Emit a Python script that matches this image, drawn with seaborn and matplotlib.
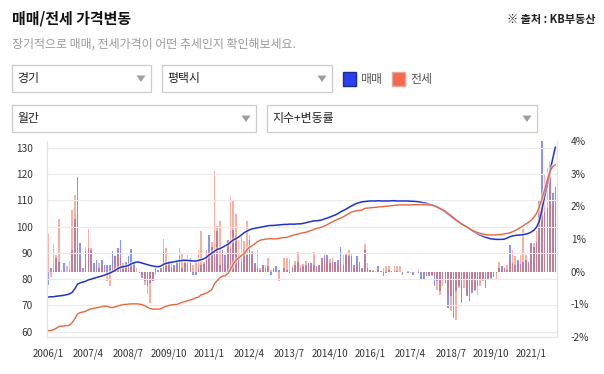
import numpy as np
import pandas as pd
import seaborn as sns
import matplotlib.pyplot as plt
import matplotlib.patheffects as pe
from matplotlib.patches import Rectangle, Polygon

# 평택시 월간 지수 / 변동률, 2006/1 ~ 2021/10 (one row per year)
sale_index = [
    73.2, 73.3, 73.3, 73.5, 73.6, 73.7, 73.9, 74.1, 74.4, 75.0, 76.4, 78.1,
    78.6, 78.9, 79.2, 79.7, 80.0, 80.3, 80.6, 80.9, 81.2, 81.5, 81.9, 82.3,
    82.8, 83.3, 84.0, 84.5, 84.7, 84.9, 85.2, 85.8, 86.2, 86.5, 86.4, 86.1,
    85.8, 85.5, 85.2, 85.0, 84.8, 84.7, 85.0, 85.6, 86.0, 86.2, 86.4, 86.6,
    86.8, 87.0, 87.1, 87.2, 87.1, 87.0, 86.9, 86.9, 87.1, 87.4, 87.7, 88.3,
    89.2, 89.9, 90.6, 91.3, 91.6, 92.1, 92.7, 93.2, 94.1, 94.9, 95.4, 96.0,
    96.8, 97.6, 98.2, 98.7, 99.1, 99.3, 99.5, 99.7, 99.9, 100.1, 100.3, 100.4,
    100.4, 100.5, 100.6, 100.7, 100.8, 100.8, 100.9, 100.9, 100.9, 101.0, 101.0, 101.2,
    101.4, 101.7, 101.9, 102.1, 102.2, 102.3, 102.5, 102.9, 103.2, 103.6, 104.0, 104.4,
    104.9, 105.6, 106.1, 106.6, 107.2, 107.8, 108.3, 108.8, 109.1, 109.4, 109.5, 109.6,
    109.7, 109.7, 109.7, 109.8, 109.7, 109.7, 109.7, 109.7, 109.8, 109.8, 109.7, 109.7,
    109.7, 109.7, 109.7, 109.6, 109.6, 109.5, 109.4, 109.2, 109.0, 108.8, 108.5, 108.2,
    107.8, 107.3, 106.8, 106.2, 105.5, 104.7, 103.9, 103.1, 102.3, 101.6, 101.0, 100.5,
    99.9, 99.2, 98.4, 97.8, 97.2, 96.7, 96.3, 95.9, 95.6, 95.3, 95.2, 95.1,
    95.1, 95.1, 95.2, 95.6, 96.1, 96.4, 96.6, 96.7, 96.8, 96.9, 97.1, 97.4,
    97.9, 98.6, 99.8, 102.0, 106.5, 111.5, 116.0, 121.0, 125.8, 130.2,
]
jeonse_index = [
    60.4, 60.5, 60.8, 61.3, 62.0, 62.1, 62.2, 62.3, 62.5, 63.5, 65.0, 66.8,
    67.3, 67.5, 67.8, 68.3, 68.7, 68.9, 69.1, 69.3, 69.5, 69.8, 69.7, 69.3,
    69.2, 69.5, 69.8, 70.1, 70.3, 70.4, 70.5, 70.6, 70.6, 70.6, 70.5, 70.3,
    69.9, 69.3, 68.8, 68.6, 68.6, 68.6, 68.7, 69.3, 69.7, 70.0, 70.2, 70.3,
    70.4, 70.8, 71.2, 71.5, 71.8, 72.1, 72.4, 72.9, 73.1, 74.0, 74.3, 74.7,
    75.3, 76.0, 78.3, 79.4, 80.6, 81.1, 81.3, 82.1, 83.9, 85.7, 87.2, 88.0,
    88.9, 89.7, 91.1, 92.1, 92.7, 93.4, 94.2, 94.8, 95.0, 95.2, 95.3, 95.4,
    95.3, 95.3, 95.5, 95.7, 95.8, 95.9, 96.3, 96.6, 96.9, 97.1, 97.4, 97.6,
    97.8, 98.1, 98.5, 98.9, 99.3, 99.5, 99.8, 100.2, 100.7, 101.3, 101.8, 102.3,
    102.8, 103.2, 103.7, 104.3, 104.9, 105.5, 105.8, 106.0, 106.1, 106.3, 106.9, 107.0,
    107.1, 107.2, 107.3, 107.4, 107.5, 107.6, 107.7, 107.8, 107.9, 108.0, 108.1, 108.2,
    108.2, 108.2, 108.2, 108.2, 108.3, 108.3, 108.3, 108.3, 108.3, 108.2, 108.2, 108.1,
    107.8, 107.4, 106.9, 106.4, 105.8, 105.0, 104.2, 103.4, 102.6, 101.8, 101.0, 100.4,
    99.8, 99.2, 98.6, 98.1, 97.7, 97.4, 97.1, 96.9, 96.8, 96.8, 96.8, 96.8,
    96.9, 97.0, 97.2, 97.4, 97.6, 98.0, 98.5, 99.0, 99.6, 100.3, 101.0, 101.6,
    102.4, 103.6, 105.0, 107.5, 110.5, 114.0, 117.8, 121.0, 122.8, 123.5,
]
sale_change = [
    -0.4, 0.12, 0.05, 0.42, 0.3, 0.0, 0.27, 0.0, 0.05, 0.65, 1.6, 2.9,
    0.88, 0.12, 0.62, 0.72, 0.67, 0.27, 0.37, 0.1, 0.35, 0.21, 0.2, 0.2,
    0.62, 0.47, 0.72, 0.96, 0.21, 0.3, 0.47, 0.7, 0.27, 0.0, -0.05, -0.2,
    -0.3, -0.45, -0.35, -0.3, 0.1, 0.05, 0.1, 0.6, 0.3, 0.32, 0.1, 0.2,
    0.31, 0.47, 0.1, 0.27, 0.2, 0.42, -0.09, -0.09, 0.1, 0.21, 0.25, 0.55,
    1.13, 0.77, 0.6, 1.23, 0.21, 0.67, 0.5, 0.98, 0.7, 1.28, 1.08, 0.47,
    0.3, 0.67, 0.5, 0.98, 0.57, 0.27, 0.1, 0.06, 0.21, 0.11, 0.16, -0.09,
    0.11, 0.18, 0.05, 0.0, 0.1, 0.05, -0.04, 0.1, 0.21, 0.29, 0.11, 0.16,
    0.2, 0.27, 0.27, 0.21, 0.16, 0.2, 0.42, 0.47, 0.52, 0.27, 0.3, 0.29,
    0.37, 0.75, 0.21, 0.52, 0.47, 0.47, 0.2, 0.47, 0.3, 0.1, 0.67, 0.11,
    0.05, 0.02, 0.0, 0.18, 0.02, -0.14, -0.05, 0.06, 0.02, 0.02, 0.01, -0.02,
    -0.09, 0.0, -0.04, -0.02, -0.09, 0.0, -0.05, -0.24, -0.24, -0.14, -0.14, -0.1,
    -0.45, -0.3, -0.6, -0.24, -0.35, -1.11, -0.76, -1.42, -0.6, -0.45, -0.96, -0.24,
    -0.75, -0.9, -0.65, -0.55, -0.45, -0.24, -0.24, -0.5, -0.24, -0.19, -0.15, -0.05,
    0.1, 0.18, 0.11, 0.06, 0.83, 0.27, 0.2, 0.37, 0.25, 0.3, 0.37, 0.3,
    0.88, 0.77, 0.9, 2.15, 4.0, 1.84, 1.95, 3.27, 2.4, 2.6,
]
jeonse_change = [
    1.15, -0.15, 0.85, 0.5, 1.6, 0.05, 0.0, 0.17, 0.33, 1.9, 2.35, 2.15,
    0.3, 0.0, 0.75, 1.3, 0.72, 0.0, 0.05, 0.27, 0.2, 0.06, -0.3, -0.43,
    0.2, 0.47, 0.57, 0.42, 0.27, 0.1, 0.12, 0.22, 0.1, 0.1, 0.0, -0.1,
    -0.4, -0.67, -0.96, -0.3, -0.1, 0.0, 0.05, 1.0, 0.72, 0.25, 0.27, 0.1,
    0.1, 0.72, 0.57, 0.37, 0.52, 0.32, 0.21, 0.3, 0.67, 1.23, 0.3, 0.67,
    0.6, 0.9, 3.07, 1.39, 1.54, 0.57, 0.21, 0.98, 2.32, 2.2, 1.77, 0.98,
    1.08, 0.93, 1.56, 1.13, 0.62, 0.21, 0.67, 0.1, 0.21, 0.21, 0.42, 0.05,
    0.06, 0.0, -0.3, 0.0, 0.42, 0.42, 0.39, 0.16, 0.32, 0.59, 0.2, 0.24,
    0.32, 0.18, 0.16, 0.59, 0.11, 0.21, 0.29, 0.52, 0.4, 0.39, 0.42, 0.27,
    0.21, 0.3, 0.52, 0.57, 0.67, 0.57, 0.11, 0.21, 0.1, 0.06, 0.86, 0.27,
    0.06, 0.04, 0.02, 0.05, 0.01, 0.11, 0.18, 0.16, 0.01, 0.18, 0.18, 0.18,
    -0.04, 0.0, 0.02, -0.04, 0.0, 0.0, 0.08, 0.0, -0.09, -0.04, -0.09, -0.14,
    -0.14, -0.55, -0.7, -0.45, -0.35, -0.65, -1.21, -1.06, -1.47, -0.5, -0.75, -0.5,
    -0.7, -0.45, -0.55, -0.6, -0.7, -0.45, -0.3, -0.24, -0.2, -0.24, 0.0, -0.24,
    0.29, 0.1, 0.11, 0.2, 0.32, 0.67, 0.47, 0.21, 0.52, 1.3, 0.52, 0.24,
    0.83, 0.88, 1.23, 2.15, 2.3, 3.0, 3.17, 3.37, 2.0, 0.8,
]
tick_labels = ['2006/1', '2007/4', '2008/7', '2009/10', '2011/1', '2012/4', '2013/7',
               '2014/10', '2016/1', '2017/4', '2018/7', '2019/10', '2021/1']
index_ticks = [60, 70, 80, 90, 100, 110, 120, 130]
change_ticks = [-2, -1, 0, 1, 2, 3, 4]

df = pd.DataFrame({'sale_index': sale_index, 'jeonse_index': jeonse_index,
                   'sale_change': sale_change, 'jeonse_change': jeonse_change})
df['month'] = np.arange(len(df))

BLUE_LINE = '#2233cc'
RED_LINE = '#e8663f'

sns.set_style('white')
plt.rcParams['font.family'] = ['Noto Sans CJK KR', 'DejaVu Sans']

W, H = 604, 374
fig = plt.figure(figsize=(W / 100, H / 100), dpi=100)


def fx(px):
    return px / W


def fy(py):
    return 1 - py / H


# header texts
fig.text(fx(12), fy(18), '매매/전세 가격변동', fontsize=10.8, fontweight='bold', color='#111111', va='center')
fig.text(fx(596), fy(19), '※ 출처 : KB부동산', fontsize=8, fontweight='bold', color='#222222',
         ha='right', va='center')
fig.text(fx(12), fy(44), '장기적으로 매매, 전세가격이 어떤 추세인지 확인해보세요.', fontsize=8.6,
         color='#9a9a9a', va='center')


# select boxes
def select_box(x0, x1, y0, y1, label):
    fig.add_artist(Rectangle((fx(x0), fy(y1)), fx(x1) - fx(x0), fy(y0) - fy(y1),
                             transform=fig.transFigure, fill=False, edgecolor='#cccccc', lw=0.9))
    yc = (y0 + y1) / 2
    fig.text(fx(x0 + 5), fy(yc), label, fontsize=8.6, color='#222222', va='center')
    tx = x1 - 10
    fig.add_artist(Polygon([(fx(tx - 4.5), fy(yc - 3)), (fx(tx + 4.5), fy(yc - 3)), (fx(tx), fy(yc + 3.5))],
                           closed=True, transform=fig.transFigure, facecolor='#9e9e9e', edgecolor='none'))


select_box(12, 151, 65, 92, '경기')
select_box(162, 332, 65, 92, '평택시')
select_box(12, 256, 105, 132, '월간')
select_box(267, 537, 105, 132, '지수+변동률')

# legend squares
fig.add_artist(Rectangle((fx(343), fy(86)), fx(13), 14 / H, transform=fig.transFigure,
                         facecolor='#2b3ff0', edgecolor='#1c2a99', lw=1))
fig.text(fx(360), fy(79), '매매', fontsize=8.6, color='#555555', va='center')
fig.add_artist(Rectangle((fx(392), fy(86)), fx(13), 14 / H, transform=fig.transFigure,
                         facecolor='#f36a4c', edgecolor='#e9a595', lw=1))
fig.text(fx(410), fy(79), '전세', fontsize=8.6, color='#555555', va='center')

# chart
ax = fig.add_axes([fx(47), fy(337), fx(557) - fx(47), (337 - 141) / H])
ax2 = ax.twinx()

sns.barplot(data=df, x='month', y='sale_change', native_scale=True, ax=ax2, color='#3347e0',
            alpha=0.58, width=0.62, errorbar=None, saturation=1, linewidth=0)
sns.barplot(data=df, x='month', y='jeonse_change', native_scale=True, ax=ax2, color='#ee6a50',
            alpha=0.52, width=0.62, errorbar=None, saturation=1, linewidth=0)

halo = [pe.Stroke(linewidth=2.8, foreground='white', alpha=0.5), pe.Normal()]
sns.lineplot(data=df, x='month', y='sale_index', ax=ax, color=BLUE_LINE, linewidth=1.1, path_effects=halo)
sns.lineplot(data=df, x='month', y='jeonse_index', ax=ax, color=RED_LINE, linewidth=1.0, path_effects=halo)

ax.set_zorder(ax2.get_zorder() + 1)
ax.patch.set_visible(False)

ax.set_xlim(-0.4, 189.6)
ax.set_ylim(58, 132.5)
ax2.set_ylim(-2, 4)

ax.set_xticks(np.arange(0, len(df), 15))
ax.set_xticklabels(tick_labels)
ax.set_yticks(index_ticks)
ax2.set_yticks(change_ticks)
ax2.set_yticklabels([f'{t}%' for t in change_ticks])
ax.set(xlabel='', ylabel='')
ax2.set(xlabel='', ylabel='')

ax.tick_params(axis='x', length=0, pad=8, labelsize=7, labelcolor='#333333')
ax.tick_params(axis='y', length=0, pad=10, labelsize=7.3, labelcolor='#333333')
ax2.tick_params(axis='y', length=0, pad=10, labelsize=7.3, labelcolor='#333333')

ax.yaxis.grid(True, color='#ebebeb', lw=0.8)
ax.xaxis.grid(False)
for side in ['left', 'right', 'bottom']:
    ax.spines[side].set_color('#e3e3e3')
    ax.spines[side].set_linewidth(0.9)
ax.spines['top'].set_visible(False)
for side in ax2.spines:
    ax2.spines[side].set_visible(False)

fig.savefig('out.png', dpi=100)
